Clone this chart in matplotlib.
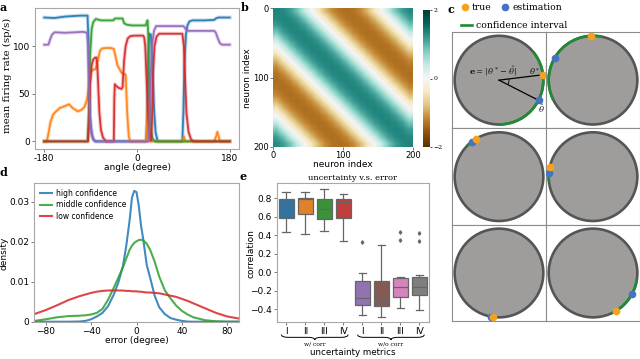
import numpy as np
import matplotlib
matplotlib.use("Agg")
import matplotlib.pyplot as plt
import matplotlib.transforms as mtransforms
from matplotlib.patches import Circle, Arc, PathPatch
from matplotlib.path import Path
from matplotlib.lines import Line2D

plt.rcParams['font.family'] = 'DejaVu Sans'
plt.rcParams['font.size'] = 6.5
plt.rcParams['mathtext.fontset'] = 'dejavuserif'
SERIF = 'DejaVu Serif'
FRAME = '#a8a8a8'

# ---------------- panel a: tuning curves (degree, sp/s)
blue_ang = [-180, -160, -140, -110, -96, -94.5, -93, -91, -88, -85, -80, 18, 20, 22, 24, 27, 30, 33, 36, 40,
            88, 90, 92, 95, 98, 102, 108, 130, 150, 153, 158, 180]
blue_rate = [130, 129.5, 131, 132, 132, 110, 60, 25, 8, 2, 0, 0, 30, 90, 113, 112, 80, 35, 10, 0,
             0, 30, 80, 112, 122, 126, 127, 127, 127.5, 129, 130, 130]
orange_ang = [-180, -175, -172, -168, -163, -158, -150, -140, -132, -125, -115, -108, -102, -97, -93, -90, -86,
              -80, -76, -72, -68, -60, -50, -45, -42, -38, -34, -30, -26, -22, -19, -16, -13, 18, 20, 21, 22,
              24, 88, 91, 94, 150, 154, 156, 158, 161, 180]
orange_rate = [0, 0, 8, 20, 28, 31, 35, 37, 39, 35, 31.5, 33, 36, 44, 60, 72, 75,
               76, 85, 95, 97.5, 98, 98, 97, 90, 80, 76, 72, 71, 70, 30, 5, 0, 0, 30, 43, 10,
               0, 0, 5, 0, 0, 6, 10, 6, 0, 0]
green_ang = [-180, -96, -93.5, -91, -88, -85, -80, -70, -46, -43, -28, -25, -20, -10, 17, 19, 20.5, 22, 24, 27,
             30, 35, 180]
green_rate = [0, 0, 30, 90, 118, 125, 128.5, 127, 127, 129, 129, 124, 122.5, 121.7, 121.7, 125, 127, 110, 50, 12,
              3, 0, 0]
red_ang = [-180, -95, -93, -91, -88, -85, -81, -79, -77, -75, -73, -70, -66, -60, -45, -44, -43, -40, -35, -30,
           -28, -25, -22, -18, -13, -5, 12, 14, 16, 19, 22, 25, 27.5, 29, 31, 34, 38, 43, 60, 88, 91, 93, 96,
           100, 105, 110, 180]
red_rate = [0, 0, 20, 60, 80, 86, 88, 88, 80, 55, 30, 12, 4, 0, 0, 45, 60, 58, 56, 55,
            57, 85, 100, 108, 110.5, 111, 111, 109, 100, 60, 25, 6, 1, 20, 70, 100, 110, 113, 113, 113, 100, 70, 30,
            10, 2, 0, 0]
purple_ang = [-180, -172, -168, -165, -160, -140, -120, -105, -97, -95, -93, -90, -86, -82, 22, 24, 26, 29, 33,
              37, 60, 90, 93, 97, 100, 150, 153, 157, 161, 165, 180]
purple_rate = [101.5, 101.5, 108, 112, 114.5, 114, 114.5, 115, 114, 100, 50, 15, 4, 0, 0, 15, 60, 100, 116,
               121, 121, 121, 119, 116.5, 116, 116, 114, 108, 103, 101.5, 101.5]

# ---------------- panel b: mean correlation against index offset (every 10 neurons)
offset_vals = [1.35, 1.3, 1.15, 0.85, 0.4, 0.0, -0.4, -0.85, -1.15, -1.3,
               -1.35, -1.3, -1.15, -0.85, -0.4, 0.0, 0.4, 0.85, 1.15, 1.3]

# ---------------- panel c: six example trials (degree)
true_deg = [7, 93, 122, 167, 262, 302]
est_deg = [-27, 150, 128, 175.5, 259, 331]
ci_lo = [-91, 78, 117, 164, 256, 294]
ci_hi = [40, 207, 136, 186, 264, 352]

# ---------------- panel d: error densities
err = [-90, -80, -70, -60, -50, -45, -40, -35, -30, -25, -20, -16, -12, -9, -6, -4, -2, 0, 2, 4, 6, 9, 12, 16,
       20, 25, 30, 35, 40, 45, 50, 60, 70, 80, 90]
dens_high = [0, 0, 0, 0, 0.00005, 0.0002, 0.0006, 0.0013, 0.0022, 0.0039, 0.0068, 0.0098, 0.0138, 0.019,
             0.0255, 0.031, 0.0327, 0.0324, 0.029, 0.024, 0.0205, 0.0142, 0.011, 0.0065, 0.0036, 0.0019,
             0.0009, 0.0005, 0.0002, 0.00003, 0, 0, 0, 0, 0]
dens_mid = [0.0002, 0.0006, 0.0011, 0.0014, 0.0015, 0.0016, 0.0018, 0.0022, 0.0032, 0.0055, 0.0085, 0.011,
            0.0136, 0.0158, 0.018, 0.019, 0.0197, 0.0201, 0.0204, 0.0205, 0.0203, 0.0195, 0.018, 0.015,
            0.0113, 0.0078, 0.0058, 0.004, 0.0027, 0.0018, 0.0011, 0.0004, 0.0001, 0, 0]
dens_low = [0.0019, 0.0029, 0.0041, 0.0054, 0.0064, 0.0068, 0.0072, 0.0075, 0.0077, 0.0078, 0.0078, 0.0078,
            0.0078, 0.0077, 0.0077, 0.0076, 0.0076, 0.0076, 0.0075, 0.0075, 0.0074, 0.0073, 0.0073, 0.0072,
            0.0071, 0.0068, 0.0065, 0.0062, 0.0057, 0.0052, 0.0046, 0.0034, 0.0022, 0.0013, 0.0008]

# ---------------- panel e: box statistics
metric_labels = ['I', 'II', 'III', 'IV', 'I', 'II', 'III', 'IV']
whislo = [0.432, 0.41, 0.446, 0.338, -0.462, -0.48, -0.383, -0.408]
q1 = [0.59, 0.63, 0.576, 0.584, -0.353, -0.36, -0.264, -0.245]
med = [0.746, 0.789, 0.684, 0.757, -0.274, -0.30, -0.156, -0.156]
q3 = [0.789, 0.80, 0.789, 0.789, -0.094, -0.094, -0.062, -0.048]
whishi = [0.865, 0.865, 0.897, 0.85, -0.011, 0.295, -0.047, -0.032]
fliers = [[], [], [], [], [0.324], [], [0.432, 0.349], [0.42, 0.34]]
box_colors = ['#3274a1', '#e1812c', '#3a923a', '#c03d3e', '#9372b2', '#845b53', '#d684bd', '#7f7f7f']
groups = [('w/ corr', 0, 3), ('w/o corr', 4, 7)]

W, H = 640, 359
fig = plt.figure(figsize=(W / 100, H / 100), dpi=100)


def px_axes(x0, y0, x1, y1):
    return fig.add_axes([x0 / W, 1 - y1 / H, (x1 - x0) / W, (y1 - y0) / H])


def style(ax):
    for s in ax.spines.values():
        s.set_color(FRAME)
        s.set_linewidth(0.8)
    ax.tick_params(length=2, width=0.6, color='0.4', pad=1.5, labelsize=6.5)


# ---- a
ax = px_axes(35, 8, 239, 149)
style(ax)
for a, r, c in [(blue_ang, blue_rate, '#1f77b4'), (orange_ang, orange_rate, '#ff7f0e'),
                (green_ang, green_rate, '#2ca02c'), (red_ang, red_rate, '#d62728'),
                (purple_ang, purple_rate, '#9467bd')]:
    ax.plot(a, r, color=c, lw=2.8, alpha=0.25)
    ax.plot(a, r, color=c, lw=1.3, alpha=0.9)
ax.set_xlim(-198, 198)
ax.set_ylim(-8, 140)
ax.set_xticks([-180, 0, 180])
ax.set_xticklabels(['-180', '0', '180'])
ax.set_yticks([0, 50, 100])
ax.set_ylabel('mean firing rate (sp/s)', family=SERIF, fontsize=7.3)
ax.yaxis.set_label_coords(-0.114, 0.52)
ax.set_xlabel('angle (degree)')
ax.xaxis.set_label_coords(0.5, -0.097)

# ---- b
n = len(offset_vals)
M = np.array([[offset_vals[(j - i) % n] for j in range(n)] for i in range(n)])
axb = px_axes(273, 8, 413, 147)
im = axb.imshow(M, cmap='BrBG', vmin=-2, vmax=2, extent=[0, 200, 200, 0],
                interpolation='bilinear', aspect='auto')
for s in axb.spines.values():
    s.set_visible(False)
axb.tick_params(length=2, width=0.6, color='0.4', pad=1, labelsize=6)
axb.set_xticks([0, 100, 200])
axb.set_yticks([0, 100, 200])
axb.set_xlabel('neuron index')
axb.xaxis.set_label_coords(0.5, -0.095)
axb.set_ylabel('neuron index')
axb.yaxis.set_label_coords(-0.15, 0.494)
cax = px_axes(422.7, 10, 430, 147)
cb = fig.colorbar(im, cax=cax, ticks=[-2, 0, 2])
cb.outline.set_visible(False)
cax.tick_params(length=1.5, width=0.5, pad=1)
cax.set_yticklabels(['\u22122', '0', '2'], family=SERIF, fontsize=4.5)

# ---- c
cols = [(452, 546), (546, 640)]
rows = [(32, 128.3), (128.3, 225), (225, 321)]
ORANGE, BLUE, GREEN = '#f7a21d', '#4472c4', '#1e8c34'
k = 0
for (y0, y1) in rows:
    for (x0, x1) in cols:
        cx = px_axes(x0, y0, x1, y1)
        w, h = x1 - x0, y1 - y0
        cx.set_xlim(-1.06, 1.06)
        cx.set_ylim(-1.06 * h / w, 1.06 * h / w)
        cx.set_xticks([])
        cx.set_yticks([])
        for s in cx.spines.values():
            s.set_color('0.55')
            s.set_linewidth(0.8)
        cx.add_patch(Circle((0, 0), 1, fc='#9e9d9b', ec='#555555', lw=1.9))
        cx.add_patch(Arc((0, 0), 2, 2, theta1=ci_lo[k], theta2=ci_hi[k], color=GREEN, lw=1.9))
        tt, te = np.deg2rad(true_deg[k]), np.deg2rad(est_deg[k])
        if k == 0:
            cx.plot([0, np.cos(tt)], [0, np.sin(tt)], color='k', lw=0.9)
            cx.plot([0, np.cos(te)], [0, np.sin(te)], color='k', lw=0.9)
            cx.add_patch(Arc((0, 0), 0.45, 0.45, theta1=est_deg[k], theta2=true_deg[k], color='k', lw=0.6))
            cx.text(-0.14, 0.19, r'$\mathbf{e}=|\theta^*-\hat{\theta}|$', fontsize=6, ha='center',
                    va='center', color='0.1')
            cx.text(0.8, 0.2, r'$\theta^*$', fontsize=6, ha='center', va='center', color='0.1')
            cx.text(0.95, -0.64, r'$\hat{\theta}$', fontsize=6, ha='center', va='center', color='0.1')
        cx.plot(np.cos(te), np.sin(te), 'o', color=BLUE, ms=4.5, zorder=5)
        cx.plot(np.cos(tt), np.sin(tt), 'o', color=ORANGE, ms=4.5, zorder=6)
        k += 1

true_h = Line2D([], [], marker='o', ls='', color=ORANGE, ms=4.5, label='true')
est_h = Line2D([], [], marker='o', ls='', color=BLUE, ms=4.5, label='estimation')
ci_h = Line2D([], [], color=GREEN, lw=1.9, label='confidence interval')
fig.legend(handles=[true_h, est_h], loc='upper left', bbox_to_anchor=(461 / W, 1 - 3.5 / H), ncol=2,
           frameon=False, prop={'family': SERIF, 'size': 6.7}, handlelength=0.8, handletextpad=0.4,
           columnspacing=1.0, borderpad=0, borderaxespad=0)
fig.legend(handles=[ci_h], loc='upper left', bbox_to_anchor=(461 / W, 1 - 21 / H),
           frameon=False, prop={'family': SERIF, 'size': 6.7}, handlelength=1.2, handletextpad=0.43,
           borderpad=0, borderaxespad=0)

# ---- d
axd = px_axes(34.3, 183.3, 238.7, 321.7)
style(axd)
axd.plot(err, dens_high, color='#1f77b4', lw=1.5, alpha=0.85, label='high confidence')
axd.plot(err, dens_mid, color='#2ca02c', lw=1.5, alpha=0.85, label='middle confidence')
axd.plot(err, dens_low, color='#d62728', lw=1.5, alpha=0.85, label='low confidence')
axd.set_xlim(-90, 90)
axd.set_ylim(0, 0.0346)
axd.set_xticks([-80, -40, 0, 40, 80])
axd.set_yticks([0, 0.01, 0.02, 0.03])
axd.set_yticklabels(['0', '0.01', '0.02', '0.03'])
axd.set_xlabel('error (degree)')
axd.xaxis.set_label_coords(0.5, -0.1)
axd.set_ylabel('density')
axd.yaxis.set_label_coords(-0.125, 0.494)
axd.legend(loc='upper left', frameon=False, fontsize=5.5, handlelength=1.6, handletextpad=0.6,
           labelspacing=0.35, borderaxespad=0.3)

# ---- e
axe = px_axes(276.7, 183.3, 429, 321.7)
style(axe)
stats = [dict(whislo=whislo[i], q1=q1[i], med=med[i], q3=q3[i], whishi=whishi[i], fliers=fliers[i])
         for i in range(len(metric_labels))]
pos = list(range(len(metric_labels)))
bp = axe.bxp(stats, positions=pos, widths=0.8, patch_artist=True,
             boxprops=dict(ec='0.4', lw=0.9), medianprops=dict(color='0.4', lw=0.9),
             whiskerprops=dict(color='0.4', lw=0.9), capprops=dict(color='0.4', lw=0.9),
             flierprops=dict(marker='d', ms=1.8, mfc='0.4', mec='0.4'))
for patch, c in zip(bp['boxes'], box_colors):
    patch.set_facecolor(c)
axe.set_xlim(-0.5, 7.5)
axe.set_ylim(-0.534, 0.962)
axe.set_xticks(pos)
axe.set_xticklabels(metric_labels)
axe.set_yticks([-0.4, -0.2, 0.0, 0.2, 0.4, 0.6, 0.8])
axe.set_ylabel('correlation')
axe.yaxis.set_label_coords(-0.14, 0.494)
axe.set_title('uncertainty v.s. error', family=SERIF, fontsize=6, pad=2.5)
trans = mtransforms.blended_transform_factory(axe.transData, axe.transAxes)
for name, g0, g1 in groups:
    xa, xb = pos[g0] - 0.25, pos[g1] + 0.25
    xc = (xa + xb) / 2
    yt, ym, yb, bw = -0.093, -0.113, -0.132, 0.35
    verts = [(xa, yt), (xa, ym), (xa + bw, ym), (xc - bw, ym), (xc, ym), (xc, yb),
             (xc, ym), (xc + bw, ym), (xb - bw, ym), (xb, ym), (xb, yt)]
    codes = [Path.MOVETO, Path.CURVE3, Path.CURVE3, Path.LINETO, Path.CURVE3, Path.CURVE3,
             Path.CURVE3, Path.CURVE3, Path.LINETO, Path.CURVE3, Path.CURVE3]
    axe.add_patch(PathPatch(Path(verts, codes), fc='none', ec='k', lw=0.7, transform=trans, clip_on=False))
    axe.text(xc, -0.16, name, transform=trans, family=SERIF, fontsize=4.3, ha='center', va='center')
axe.text(0.5, -0.222, 'uncertainty metrics', transform=axe.transAxes, fontsize=6.3, ha='center', va='center')

# ---- panel letters
for lab, x, y in [('a', 0, 2), ('b', 241, 2), ('c', 447, 4), ('d', 0, 167), ('e', 239, 171)]:
    fig.text(x / W, 1 - y / H, lab, family=SERIF, fontweight='bold', fontsize=8, ha='left', va='top')

fig.savefig('out.png', dpi=100)
